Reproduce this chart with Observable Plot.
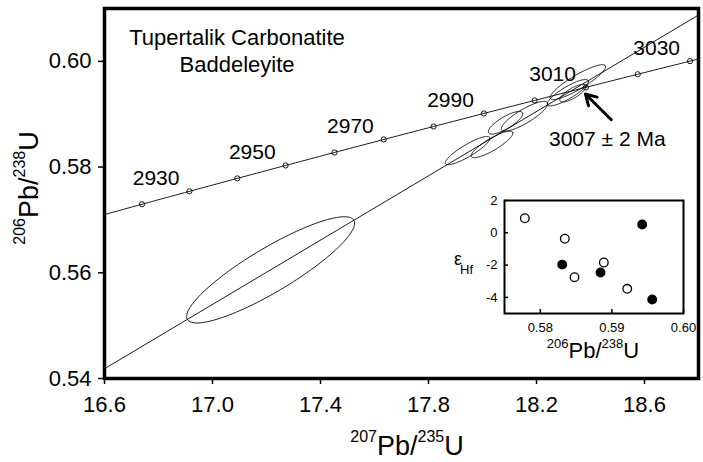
<!DOCTYPE html>
<html><head><meta charset="utf-8">
<script src="https://cdn.jsdelivr.net/npm/d3@7"></script>
<script src="https://cdn.jsdelivr.net/npm/@observablehq/plot@0.6"></script>
<style>
body{margin:0;background:#fff;}
#wrap{position:relative;width:703px;height:462px;font-family:"Liberation Sans",Arial,Helvetica,sans-serif;}
#wrap svg{font-family:"Liberation Sans",Arial,Helvetica,sans-serif;}
#inset{position:absolute;left:440px;top:186px;}
</style></head><body><div id="wrap"></div>
<script>
// ---- data ----
const markerAges = [2920, 2930, 2940, 2950, 2960, 2970, 2980, 2990, 3000, 3010, 3020, 3030];
const labelAges = [2930, 2950, 2970, 2990, 3010, 3030];
const upperIntercept = 3007;
const lowerIntercept = 298;
const ellX   = [17.2152, 17.9449, 18.0354, 18.0853, 18.1555, 18.3162, 18.3532, 18.3347];
const ellY   = [0.56055, 0.58312, 0.58429, 0.58838, 0.58961, 0.59407, 0.59607, 0.59398];
const ellSx  = [0.3112, 0.0826, 0.0772, 0.0636, 0.0858, 0.0762, 0.1027, 0.0486];
const ellSy  = [0.01005, 0.00267, 0.00252, 0.00214, 0.00282, 0.00249, 0.0033, 0.00166];
const ellRho = [0.878, 0.872, 0.854, 0.795, 0.842, 0.852, 0.884, 0.76];
const xTicks = [16.6, 17.0, 17.4, 17.8, 18.2, 18.6];
const yTicks = [0.54, 0.56, 0.58, 0.60];
const ageLabel = "3007 ± 2 Ma";
const ageLabelPos = [18.4622, 0.58524];
const arrowFrom = [18.477, 0.58895];
const arrowTo = [18.381, 0.59383];
const titleLines = ["Tupertalik Carbonatite", "Baddeleyite"];
// inset
const insetPb  = [0.57784, 0.58342, 0.58306, 0.58478, 0.58841, 0.58887, 0.59214, 0.59563, 0.59423];
const insetEps = [0.90, -0.37, -1.97, -2.75, -2.46, -1.84, -3.47, -4.13, 0.51];
const insetFilled = [false, false, true, false, true, false, false, true, true];
const insetXTicks = [0.58, 0.59, 0.60];
const insetYTicks = [2, 0, -2, -4];

// ---- derived geometry ----
const L238 = 1.55125e-10, L235 = 9.8485e-10;
const conc = t => ({x: Math.expm1(L235 * t * 1e6), y: Math.expm1(L238 * t * 1e6), age: t});
const concCurve = d3.range(2890, 3050, 1).map(conc);
const markers = markerAges.map(conc);
const labels = labelAges.map(conc);
const lo = conc(lowerIntercept), up = conc(upperIntercept);
const slope = (up.y - lo.y) / (up.x - lo.x);
const disc = [lo, up, {x: 19.5, y: up.y + slope * (19.5 - up.x)}];
const ellPts = [];
ellX.forEach((cx, i) => {
  const r = ellRho[i], q = Math.sqrt(1 - r * r);
  for (let k = 0; k <= 160; k++) {
    const th = 2 * Math.PI * k / 160;
    ellPts.push({id: i, x: cx + ellSx[i] * Math.cos(th), y: ellY[i] + ellSy[i] * (r * Math.cos(th) + q * Math.sin(th))});
  }
});

const FONT = "Liberation Sans, Arial, Helvetica, sans-serif";
const main = Plot.plot({
  width: 703, height: 462,
  marginLeft: 104, marginRight: 5, marginTop: 8, marginBottom: 84,
  x: {domain: [16.6, 18.8]},
  y: {domain: [0.54, 0.61]},
  style: {fontFamily: FONT, color: "black", background: "white"},
  marks: [
    Plot.axisX({ticks: xTicks, tickFormat: d => d.toFixed(1), tickSize: 6, tickPadding: 12, fontSize: 22, label: null, strokeWidth: 1.5}),
    Plot.axisY({ticks: yTicks, tickFormat: d => d.toFixed(2), tickSize: 6, tickPadding: 7, fontSize: 22, label: null, strokeWidth: 1.5}),
    Plot.line(concCurve, {x: "x", y: "y", stroke: "black", strokeWidth: 0.9, clip: true}),
    Plot.line(disc, {x: "x", y: "y", stroke: "black", strokeWidth: 0.9, clip: true}),
    Plot.line(ellPts, {x: "x", y: "y", z: "id", stroke: "black", strokeWidth: 0.9, clip: true}),
    Plot.dot(markers, {x: "x", y: "y", r: 2.6, stroke: "black", fill: "none", strokeWidth: 0.9}),
    Plot.text(labels, {x: "x", y: "y", text: d => String(d.age), textAnchor: "end", dx: -10, dy: -13, fontSize: 21, fill: "black"}),
    Plot.arrow([0], {x1: () => arrowFrom[0], y1: () => arrowFrom[1], x2: () => arrowTo[0], y2: () => arrowTo[1], stroke: "black", strokeWidth: 3, headLength: 12}),
    Plot.text([ageLabel], {x: () => ageLabelPos[0], y: () => ageLabelPos[1], text: d => d, fontSize: 21, fill: "black"}),
    Plot.text([titleLines[0]], {frameAnchor: "top-left", textAnchor: "middle", lineAnchor: "middle", dx: 132.5, dy: 29.5, text: d => d, fontSize: 22, fill: "black"}),
    Plot.text([titleLines[1]], {frameAnchor: "top-left", textAnchor: "middle", lineAnchor: "middle", dx: 132.5, dy: 56, text: d => d, fontSize: 22, fill: "black"}),
    Plot.frame({stroke: "black", strokeWidth: 3.5})
  ]
});
document.getElementById("wrap").appendChild(main);
const msvg = d3.select(main);
// x axis title
const xt = msvg.append("text").attr("x", 407).attr("y", 455).attr("text-anchor", "middle").attr("font-size", 27).attr("fill", "black");
xt.append("tspan").attr("font-size", 16).attr("dy", -13).text("207");
xt.append("tspan").attr("dy", 13).text("Pb/");
xt.append("tspan").attr("font-size", 16).attr("dy", -13).text("235");
xt.append("tspan").attr("dy", 13).text("U");
// y axis title
const yt = msvg.append("text").attr("transform", "translate(38,188) rotate(-90)").attr("text-anchor", "middle").attr("font-size", 27).attr("fill", "black");
yt.append("tspan").attr("font-size", 16).attr("dy", -13).text("206");
yt.append("tspan").attr("dy", 13).text("Pb/");
yt.append("tspan").attr("font-size", 16).attr("dy", -13).text("238");
yt.append("tspan").attr("dy", 13).text("U");

// ---- inset ----
const insetData = insetPb.map((x, i) => ({x, y: insetEps[i], filled: insetFilled[i]}));
const inset = Plot.plot({
  width: 260, height: 200,
  marginLeft: 64, marginRight: 17, marginTop: 14, marginBottom: 73,
  x: {domain: [0.575, 0.600]},
  y: {domain: [-5, 2]},
  style: {fontFamily: FONT, color: "black", background: "transparent"},
  marks: [
    Plot.rect([0], {x1: 0.575, x2: 0.600, y1: -5, y2: 2, fill: "white"}),
    Plot.axisX({ticks: insetXTicks, tickFormat: d => d.toFixed(2), tickSize: 0, tickPadding: 9, fontSize: 13, label: null}),
    Plot.axisY({ticks: insetYTicks, tickFormat: d => String(d), tickSize: 0, tickPadding: 7, fontSize: 13, label: null}),
    Plot.axisX({ticks: insetXTicks, tickFormat: () => "", tickSize: -4, label: null, strokeWidth: 1.5}),
    Plot.axisY({ticks: insetYTicks, tickFormat: () => "", tickSize: -4, label: null, strokeWidth: 1.5}),
    Plot.dot(insetData, {x: "x", y: "y", r: 4.3, stroke: "black", strokeWidth: 1.3, fill: d => d.filled ? "black" : "white"}),
    Plot.frame({stroke: "black", strokeWidth: 2})
  ]
});
inset.id = "inset";
document.getElementById("wrap").appendChild(inset);
const isvg = d3.select(inset);
isvg.append("text").attr("x", 18).attr("y", 79).attr("font-size", 18).attr("fill", "black").text("ε");
isvg.append("text").attr("x", 26.5).attr("y", 87.5).attr("font-size", 13).attr("fill", "black").text("Hf");
const it = isvg.append("text").attr("x", 153).attr("y", 172).attr("text-anchor", "middle").attr("font-size", 22).attr("fill", "black");
it.append("tspan").attr("font-size", 13).attr("dy", -10).text("206");
it.append("tspan").attr("dy", 10).text("Pb/");
it.append("tspan").attr("font-size", 13).attr("dy", -10).text("238");
it.append("tspan").attr("dy", 10).text("U");
</script>
</body></html>
